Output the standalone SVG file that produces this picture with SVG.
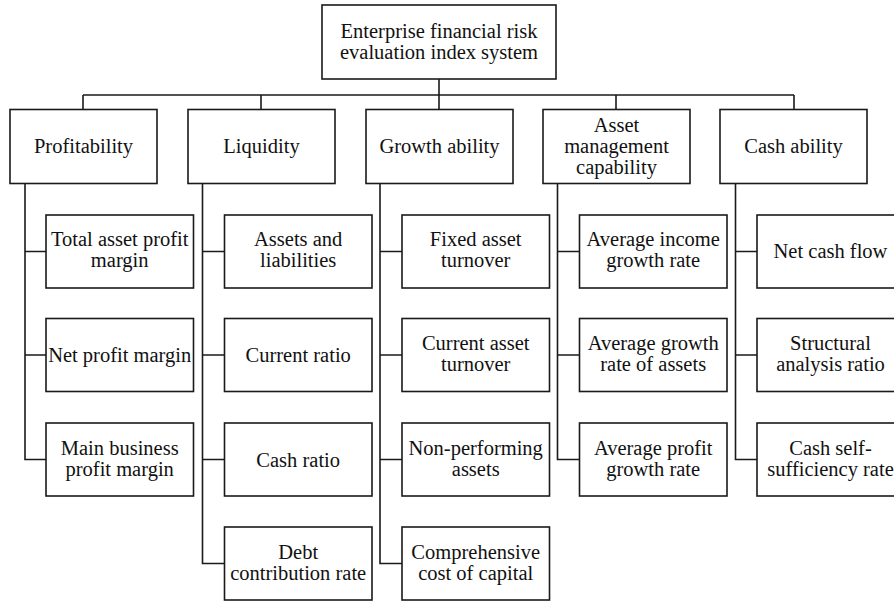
<svg xmlns="http://www.w3.org/2000/svg" width="894" height="603" viewBox="0 0 894 603">
<style>
rect{fill:#fff;stroke:#1a1a1a;stroke-width:1.6}
text{font-family:'Liberation Serif','Times New Roman','DejaVu Serif',serif;font-size:20.5px;fill:#111;text-anchor:middle}
.c{fill:none;stroke:#1a1a1a;stroke-width:1.6}
</style>
<rect x="0" y="0" width="894" height="603" style="stroke:none"/>
<g id="connectors">
<path class="c" d="M439 79 V95 M83 95 H794 M83 95 V109.5 M261 95 V109.5 M439 95 V109.5 M616 95 V109.5 M794 95 V109.5"/>
<path class="c" d="M25 183.5 V459.5 H46 M25 251.5 H46 M25 355 H46"/>
<path class="c" d="M202.5 183.5 V563.5 H224.5 M202.5 251.5 H224.5 M202.5 355 H224.5 M202.5 459.5 H224.5"/>
<path class="c" d="M380 183.5 V563.5 H402 M380 251.5 H402 M380 355 H402 M380 459.5 H402"/>
<path class="c" d="M557.5 183.5 V459.5 H579.5 M557.5 251.5 H579.5 M557.5 355 H579.5"/>
<path class="c" d="M735.5 183.5 V459.5 H757 M735.5 251.5 H757 M735.5 355 H757"/>
</g>
<g font-family="Liberation Serif, serif">
<g id="root"><rect x="322" y="5" width="234" height="74"/><text x="439" y="37.7">Enterprise financial risk</text><text x="439" y="59.3">evaluation index system</text></g>
<g id="profitability"><rect x="10" y="109.5" width="147" height="74"/><text x="83.5" y="152.8">Profitability</text></g>
<g id="liquidity"><rect x="188" y="109.5" width="147" height="74"/><text x="261.5" y="152.8">Liquidity</text></g>
<g id="growth"><rect x="366" y="109.5" width="147" height="74"/><text x="439.5" y="152.8">Growth ability</text></g>
<g id="asset"><rect x="543" y="109.5" width="147" height="74"/><text x="616.5" y="131.5">Asset</text><text x="616.5" y="152.5">management</text><text x="616.5" y="173.5">capability</text></g>
<g id="cash"><rect x="720" y="109.5" width="147" height="74"/><text x="793.5" y="152.8">Cash ability</text></g>

<g id="p1"><rect x="46" y="215" width="147.5" height="73"/><text x="119.7" y="246">Total asset profit</text><text x="119.7" y="267">margin</text></g>
<g id="p2"><rect x="46" y="318.5" width="147.5" height="73"/><text x="119.7" y="362">Net profit margin</text></g>
<g id="p3"><rect x="46" y="423" width="147.5" height="73"/><text x="119.7" y="455">Main business</text><text x="119.7" y="476">profit margin</text></g>

<g id="l1"><rect x="224.5" y="215" width="147.5" height="73"/><text x="298.2" y="246">Assets and</text><text x="298.2" y="267">liabilities</text></g>
<g id="l2"><rect x="224.5" y="318.5" width="147.5" height="73"/><text x="298.2" y="362">Current ratio</text></g>
<g id="l3"><rect x="224.5" y="423" width="147.5" height="73"/><text x="298.2" y="466.5">Cash ratio</text></g>
<g id="l4"><rect x="224.5" y="527" width="147.5" height="73"/><text x="298.2" y="559">Debt</text><text x="298.2" y="580">contribution rate</text></g>

<g id="g1"><rect x="402" y="215" width="147.5" height="73"/><text x="475.7" y="246">Fixed asset</text><text x="475.7" y="267">turnover</text></g>
<g id="g2"><rect x="402" y="318.5" width="147.5" height="73"/><text x="475.7" y="350">Current asset</text><text x="475.7" y="371">turnover</text></g>
<g id="g3"><rect x="402" y="423" width="147.5" height="73"/><text x="475.7" y="455">Non-performing</text><text x="475.7" y="476">assets</text></g>
<g id="g4"><rect x="402" y="527" width="147.5" height="73"/><text x="475.7" y="559">Comprehensive</text><text x="475.7" y="580">cost of capital</text></g>

<g id="a1"><rect x="579.5" y="215" width="147.5" height="73"/><text x="653.2" y="246">Average income</text><text x="653.2" y="267">growth rate</text></g>
<g id="a2"><rect x="579.5" y="318.5" width="147.5" height="73"/><text x="653.2" y="350">Average growth</text><text x="653.2" y="371">rate of assets</text></g>
<g id="a3"><rect x="579.5" y="423" width="147.5" height="73"/><text x="653.2" y="455">Average profit</text><text x="653.2" y="476">growth rate</text></g>

<g id="c1"><rect x="757" y="215" width="147.5" height="73"/><text x="830.5" y="258">Net cash flow</text></g>
<g id="c2"><rect x="757" y="318.5" width="147.5" height="73"/><text x="830.5" y="350">Structural</text><text x="830.5" y="371">analysis ratio</text></g>
<g id="c3"><rect x="757" y="423" width="147.5" height="73"/><text x="830.5" y="455">Cash self-</text><text x="830.5" y="476">sufficiency rate</text></g>
</g>
</svg>
